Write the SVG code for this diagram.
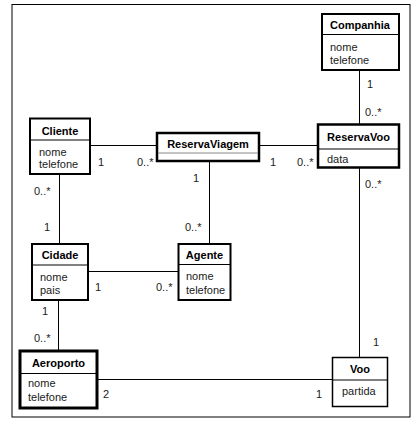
<svg xmlns="http://www.w3.org/2000/svg" width="416" height="421" viewBox="0 0 416 421">
<style>
text{font-family:"Liberation Sans",Arial,sans-serif;font-size:11px;fill:#1a1a1a}
.h{font-weight:bold;text-anchor:middle;fill:#000}
.box{fill:#fff;stroke:#000}
.div{stroke:#000;stroke-width:1}
.c{stroke:#000;stroke-width:1;fill:none}
</style>
<rect x="0" y="0" width="416" height="421" fill="#fff"/>
<rect x="12" y="4.5" width="398" height="412.5" fill="none" stroke="#000" stroke-width="1"/>
<g id="connectors">
<line class="c" x1="359.5" y1="70" x2="359.5" y2="124"/>
<line class="c" x1="90" y1="145.5" x2="157" y2="145.5"/>
<line class="c" x1="259" y1="145.5" x2="318" y2="145.5"/>
<line class="c" x1="359.5" y1="168" x2="359.5" y2="357"/>
<line class="c" x1="59.5" y1="174" x2="59.5" y2="244"/>
<line class="c" x1="209.5" y1="161" x2="209.5" y2="244"/>
<line class="c" x1="88" y1="271.5" x2="178" y2="271.5"/>
<line class="c" x1="58.5" y1="300" x2="58.5" y2="351"/>
<line class="c" x1="97" y1="379.5" x2="332" y2="379.5"/>
<text x="367" y="88">1</text>
<text x="365" y="116">0..*</text>
<text x="98" y="166">1</text>
<text x="137" y="166">0..*</text>
<text x="270" y="166">1</text>
<text x="297" y="166">0..*</text>
<text x="365" y="188">0..*</text>
<text x="373" y="346">1</text>
<text x="34" y="195">0..*</text>
<text x="44" y="231">1</text>
<text x="193" y="182">1</text>
<text x="185" y="231">0..*</text>
<text x="95" y="291">1</text>
<text x="156" y="291">0..*</text>
<text x="42" y="315">1</text>
<text x="34" y="342">0..*</text>
<text x="103" y="398">2</text>
<text x="316" y="398">1</text>
</g>
<g id="Companhia">
<rect class="box" x="322" y="14" width="77" height="56" stroke-width="2"/>
<line class="div" x1="322" y1="34.5" x2="399" y2="34.5"/>
<text class="h" x="360" y="29">Companhia</text>
<text x="330" y="51">nome</text>
<text x="330" y="64">telefone</text>
</g>
<g id="Cliente">
<rect class="box" x="30" y="118.5" width="60" height="55.5" stroke-width="2"/>
<line class="div" x1="30" y1="140" x2="90" y2="140"/>
<text class="h" x="60" y="134.5">Cliente</text>
<text x="39" y="155.5">nome</text>
<text x="39" y="168">telefone</text>
</g>
<g id="ReservaViagem">
<rect class="box" x="157" y="133" width="102" height="28" stroke-width="2.5"/>
<line x1="158" y1="153" x2="258" y2="153" stroke="#888" stroke-width="1"/>
<text class="h" x="208" y="148">ReservaViagem</text>
</g>
<g id="ReservaVoo">
<rect class="box" x="318" y="124.5" width="81" height="43" stroke-width="2.5"/>
<line class="div" x1="318" y1="149" x2="399" y2="149"/>
<text class="h" x="358.5" y="141">ReservaVoo</text>
<text x="327" y="163">data</text>
</g>
<g id="Cidade">
<rect class="box" x="32" y="244" width="56" height="56" stroke-width="2"/>
<line class="div" x1="32" y1="265" x2="88" y2="265"/>
<text class="h" x="60" y="259">Cidade</text>
<text x="40" y="280.5">nome</text>
<text x="40" y="294">pais</text>
</g>
<g id="Agente">
<rect class="box" x="178.5" y="244" width="52" height="56" stroke-width="2"/>
<line class="div" x1="178.5" y1="264.5" x2="230.5" y2="264.5"/>
<text class="h" x="204.5" y="259">Agente</text>
<text x="186" y="280">nome</text>
<text x="186" y="294">telefone</text>
</g>
<g id="Aeroporto">
<rect class="box" x="20" y="351" width="77" height="57" stroke-width="3"/>
<line class="div" x1="20" y1="373.5" x2="97" y2="373.5"/>
<text class="h" x="58.5" y="366.5">Aeroporto</text>
<text x="28" y="386.5">nome</text>
<text x="28" y="400.5">telefone</text>
</g>
<g id="Voo">
<rect class="box" x="332.5" y="357.5" width="55" height="49" stroke-width="1.5"/>
<line class="div" x1="332.5" y1="380" x2="387.5" y2="380"/>
<text class="h" x="360" y="373">Voo</text>
<text x="342" y="395">partida</text>
</g>
</svg>
